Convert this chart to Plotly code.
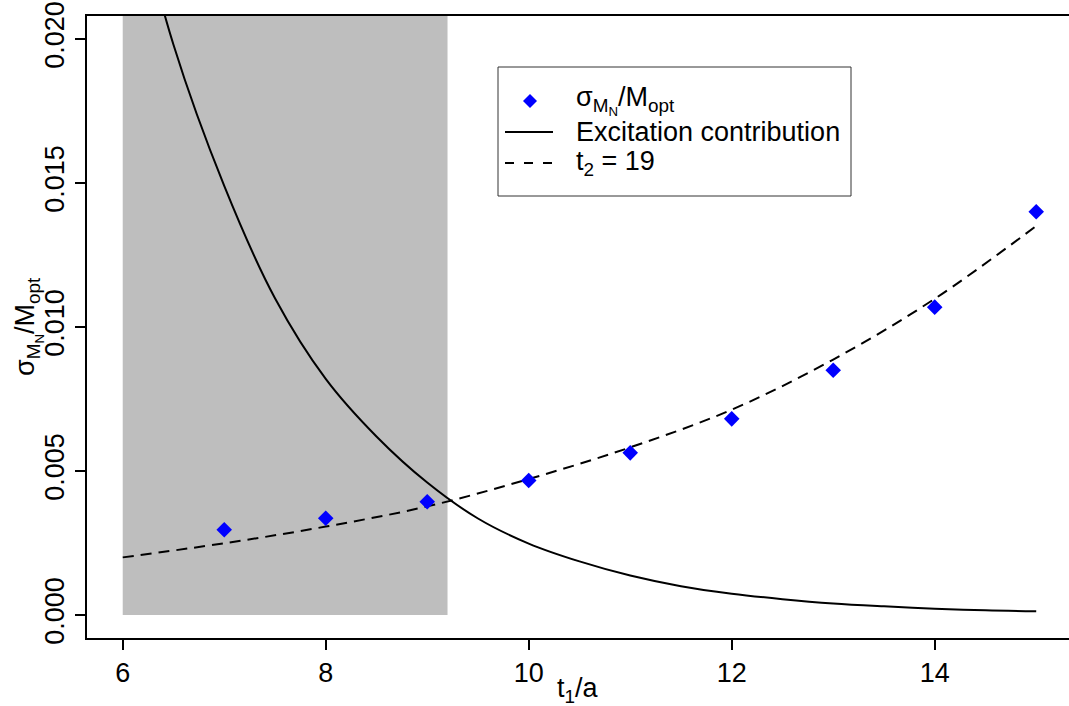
import plotly.graph_objects as go

# ---- data ----
t_points = [7, 8, 9, 10, 11, 12, 13, 14, 15]
sigma_points = [0.00296, 0.00336, 0.00393, 0.00467, 0.00563, 0.00681, 0.00850, 0.01069, 0.01400]

t_fit = [6, 7, 8, 9, 10, 11, 12, 13, 14, 15]
sigma_fit = [0.00200, 0.00249, 0.00307, 0.00377, 0.00472, 0.00582, 0.00713, 0.00887, 0.01098, 0.01351]

t_exc = [6.0, 6.5, 7.0, 7.5, 8.0, 8.5, 9.0, 9.5, 10.0, 10.5, 11.0, 11.5,
         12.0, 12.5, 13.0, 13.5, 14.0, 14.5, 15.0]
sigma_exc = [0.0265, 0.0198, 0.0149, 0.0110, 0.00820, 0.00620, 0.00460, 0.00335, 0.00248,
             0.00186, 0.00137, 0.00100, 0.00074, 0.00055, 0.00040, 0.00030, 0.00022,
             0.00016, 0.00013]

shade_x = [6.0, 9.2]
x_range = [5.648, 15.323]
y_range = [-0.0008, 0.0208]
y_ticks = [0.000, 0.005, 0.010, 0.015, 0.020]
x_ticks = [6, 8, 10, 12, 14]

legend_labels = ["σ<sub>M<sub>N</sub></sub>/M<sub>opt</sub>",
                 "Excitation contribution",
                 "t<sub>2</sub> = 19"]

FONT = "Liberation Sans, Arial, Helvetica, sans-serif"
FS = 27

# plot-area geometry in pixels (for legend placement)
L, R, T, B = 87, 1069, 16, 638
def px(x):
    return (x - L) / (R - L)
def py(y):
    return (B - y) / (B - T)

fig = go.Figure()

# grey shaded region
fig.add_trace(go.Scatter(
    x=[shade_x[0], shade_x[0], shade_x[1], shade_x[1]],
    y=[0, y_range[1], y_range[1], 0],
    fill="toself", fillcolor="#BEBEBE", line=dict(width=0),
    mode="lines", showlegend=False, hoverinfo="skip"))

fig.add_trace(go.Scatter(
    x=t_exc, y=sigma_exc, mode="lines",
    line=dict(color="black", width=2, shape="spline", smoothing=1.0),
    name=legend_labels[1], showlegend=False))

fig.add_trace(go.Scatter(
    x=t_fit, y=sigma_fit, mode="lines",
    line=dict(color="black", width=2, dash="11px,7px", shape="spline"),
    name=legend_labels[2], showlegend=False))

fig.add_trace(go.Scatter(
    x=t_points, y=sigma_points, mode="markers",
    marker=dict(symbol="diamond", color="#0000FF", size=12, line=dict(width=0)),
    name=legend_labels[0], showlegend=False))

# ---- manual legend (R style) ----
shapes = [
    dict(type="rect", xref="paper", yref="paper",
         x0=px(498), x1=px(851), y0=py(196), y1=py(67),
         line=dict(color="#333333", width=1), fillcolor="white", layer="above"),
    # diamond glyph
    dict(type="path", xref="paper", yref="paper", layer="above",
         path=(f"M {px(530)},{py(94)} L {px(537)},{py(101)} "
               f"L {px(530)},{py(108)} L {px(523)},{py(101)} Z"),
         fillcolor="#0000FF", line=dict(width=0)),
    # solid line glyph
    dict(type="line", xref="paper", yref="paper", layer="above",
         x0=px(505), x1=px(553), y0=py(132), y1=py(132),
         line=dict(color="black", width=2)),
    # dashed line glyph
    dict(type="line", xref="paper", yref="paper", layer="above",
         x0=px(505), x1=px(553), y0=py(163), y1=py(163),
         line=dict(color="black", width=2, dash="9px,10px")),
]

annotations = [
    dict(text="t<sub>1</sub>/a", xref="paper", yref="paper",
         x=0.5, y=py(690), xanchor="center", yanchor="middle",
         showarrow=False, font=dict(size=FS)),
    dict(text="σ<sub>M<sub>N</sub></sub>/M<sub>opt</sub>", xref="paper", yref="paper",
         x=px(28), y=0.5, xanchor="center", yanchor="middle", textangle=-90,
         showarrow=False, font=dict(size=FS)),
]
for lab, yy in zip(legend_labels, [101, 132, 163]):
    annotations.append(dict(text=lab, xref="paper", yref="paper",
                            x=px(574), y=py(yy), xanchor="left", yanchor="middle",
                            showarrow=False, font=dict(size=FS)))

fig.update_layout(
    width=1069, height=706,
    margin=dict(l=L, r=1069 - R, t=T, b=706 - B),
    paper_bgcolor="white", plot_bgcolor="white",
    font=dict(family=FONT, size=FS, color="black"),
    showlegend=False,
    xaxis=dict(
        range=x_range, tickvals=x_ticks, ticktext=[str(v) for v in x_ticks],
        showgrid=False, zeroline=False, showline=True, linecolor="black", linewidth=1.5,
        mirror=True, ticks="outside", ticklen=10, tickwidth=1.5, tickcolor="black",
        tickfont=dict(size=FS),
    ),
    yaxis=dict(
        range=y_range, tickvals=y_ticks, ticktext=[f"{v:.3f}" for v in y_ticks],
        showgrid=False, zeroline=False, showline=True, linecolor="black", linewidth=1.5,
        mirror=False, ticks="outside", ticklen=10, tickwidth=1.5, tickcolor="black",
        tickangle=-90, tickfont=dict(size=FS),
    ),
    shapes=shapes,
    annotations=annotations,
)

fig.write_html("out.html")
